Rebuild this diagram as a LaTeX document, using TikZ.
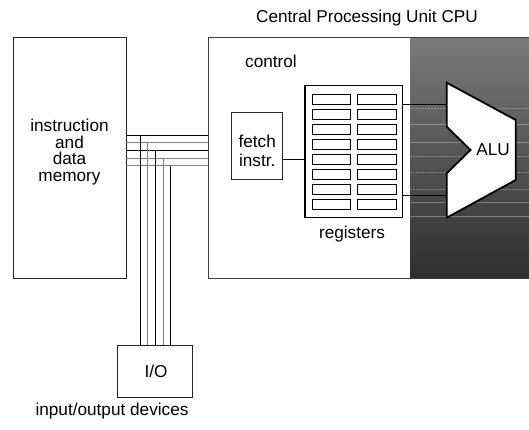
\documentclass[tikz,border=0pt]{standalone}
\usepackage{fontspec}
\setmainfont{Liberation Sans}
\begin{document}
\begin{tikzpicture}[x=1pt,y=-1pt,
  box/.style={draw=black!85,line width=0.9pt,inner sep=0pt},
  txt/.style={font=\fontsize{17.2}{16.5}\selectfont,align=center,inner sep=0pt},
  cell/.style={draw=black,line width=0.9pt,inner sep=0pt,minimum width=38.5pt,minimum height=10.3pt},
  wblack/.style={draw=black,line width=0.9pt},
  wgray/.style={draw=black!50,line width=1pt},
  glow/.style={draw=white,opacity=0.3,line width=0.6pt},
  glowd/.style={glow,dash pattern=on 1.5pt off 1.5pt}]
\useasboundingbox (0,0) rectangle (529,430);
% CPU area
\shade[top color={rgb,255:red,122;green,122;blue,122},bottom color={rgb,255:red,46;green,46;blue,46}] (410,38) rectangle (529,278);
\foreach \yy in {124,142,202,216} \draw[glow] (410,\yy) -- (529,\yy);
\foreach \yy in {108,156,172,189} \draw[glowd] (410,\yy) -- (529,\yy);
\node[inner sep=0pt,minimum width=321pt,minimum height=240pt] (cpu) at (368.5,158) {};
\draw[draw=black!75,line width=1pt] (529,38) -- (208,38) -- (208,278) -- (529,278);
\node[txt] (cputitle) at (367,18) {Central Processing Unit CPU};
\node[txt] (control) at (271,61) {control};
% memory
\node[box,minimum width=113pt,minimum height=241pt] (mem) at (69.5,157.5) {};
\node[txt] (memtext) at (69.5,152) {instruction\\and\\data\\memory};
% fetch
\node[box,minimum width=51pt,minimum height=67pt] (fetch) at (257.2,145.8) {};
\node[txt,font=\fontsize{17.2}{19}\selectfont] (fetchtext) at (257.2,151) {fetch\\instr.};
% registers
\node[box,line width=1.2pt,draw=black,minimum width=97.3pt,minimum height=132pt] (reg) at (353.65,151.7) {};
\foreach \k in {0,...,7} {
  \node[cell] (cl\k) at (331.65,99.15+15*\k) {};
  \node[cell] (cr\k) at (376.7,99.15+15*\k) {};
}
\node[txt] (reglabel) at (352,234) {registers};
% ALU
\draw[fill=white,draw=black,line width=1.8pt,line join=miter]
  (446.7,82.7) -- (515.7,120) -- (515.7,180) -- (446.7,217.7) -- (446.7,173.3)
  -- (470.5,150) -- (446.7,126.7) -- cycle;
\node[txt] (alu) at (493,150) {ALU};
\coordinate (alua) at (446.7,104.3);
\coordinate (alub) at (446.7,195.3);
\draw[wblack] (reg.east |- alua) -- (alua);
\draw[wblack] (reg.east |- alub) -- (alub);
\coordinate (fr) at (0,159.3);
\draw[wblack] (fetch.east |- fr) -- (reg.west |- fr);
% I/O
\node[box,minimum width=75.4pt,minimum height=52pt] (io) at (155,371.7) {};
\node[txt] (iotext) at (156,371.7) {I/O};
\node[txt] (iolabel) at (112,411) {input/output devices};
% bus
\coordinate (j1) at (140.5,135.3);
\coordinate (j2) at (147.8,143);
\coordinate (j3) at (155.3,150.7);
\coordinate (j4) at (163,158.3);
\coordinate (j5) at (170.4,166);
\draw[wblack] (mem.east |- j1) -- (cpu.west |- j1);
\draw[wgray] (mem.east |- j2) -- (cpu.west |- j2);
\draw[wblack] (mem.east |- j3) -- (cpu.west |- j3);
\draw[wgray] (mem.east |- j4) -- (cpu.west |- j4);
\draw[wgray] (mem.east |- j5) -- (cpu.west |- j5);
\draw[wblack] (j1) -- (io.north -| j1);
\draw[wgray] (j2) -- (io.north -| j2);
\draw[wblack] (j3) -- (io.north -| j3);
\draw[wgray] (j4) -- (io.north -| j4);
\draw[wblack] (j5) -- (io.north -| j5);
\end{tikzpicture}
\end{document}
